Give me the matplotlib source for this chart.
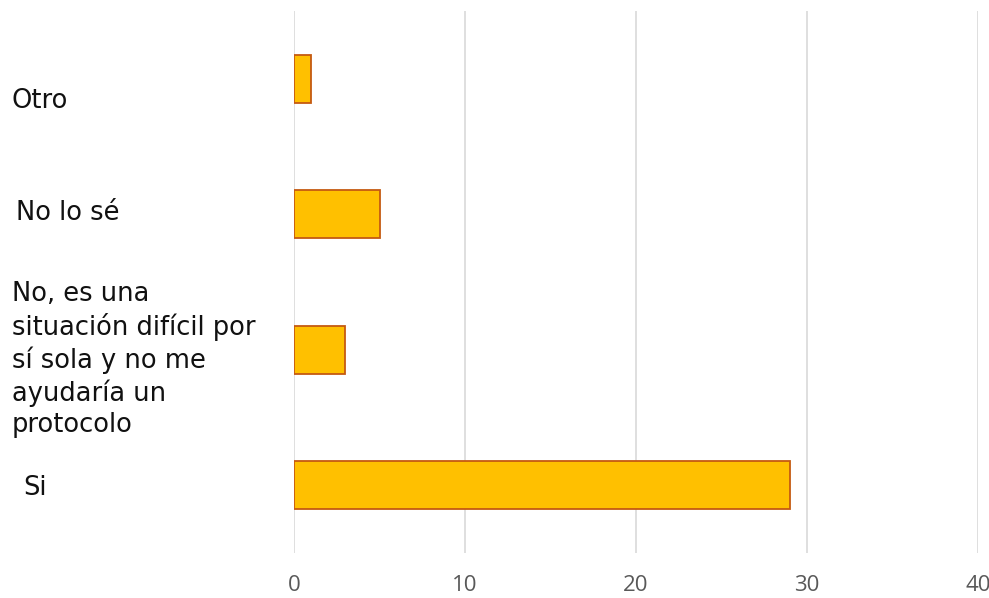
import matplotlib.pyplot as plt
import matplotlib.transforms as mtransforms

# data (bottom to top)
categories = ["Si",
              "No, es una\nsituación difícil por\nsí sola y no me\nayudaría un\nprotocolo",
              "No lo sé",
              "Otro"]
counts = [29, 3, 5, 1]
xticks = [0, 10, 20, 30, 40]

# label nudges in points (the labels are not centred on the bars)
label_dx = [8, 0, 3, 0]
label_dy = [-2, -7, 1, -16]

fig = plt.figure(figsize=(9.89, 5.98), dpi=100)
ax = fig.add_axes([0.2973, 0.0758, 0.6916, 0.9052])

ypos = list(range(len(categories)))
ax.barh(ypos, counts, height=0.355, color="#FFC000", edgecolor="#C55A11",
        linewidth=1.3, zorder=3)

ax.set_xlim(0, 40)
ax.set_ylim(-0.5, len(categories) - 0.5)
ax.set_xticks(xticks)
ax.set_xticklabels([str(t) for t in xticks], fontsize=16, color="#595959",
                   family="Open Sans")
ax.tick_params(axis="x", length=0, pad=16)
ax.set_yticks([])
ax.grid(axis="x", color="#D9D9D9", linewidth=1.2, zorder=0)
for s in ax.spines.values():
    s.set_visible(False)

trans = mtransforms.blended_transform_factory(fig.transFigure, ax.transData)
for y, lab, dx, dy in zip(ypos, categories, label_dx, label_dy):
    off = mtransforms.offset_copy(trans, fig=fig, x=dx, y=dy, units="points")
    ax.text(0.012, y, lab, transform=off, ha="left", va="center",
            fontsize=18.5, color="#111111", linespacing=1.25,
            family="DejaVu Sans")

fig.savefig("out.png", dpi=100)
